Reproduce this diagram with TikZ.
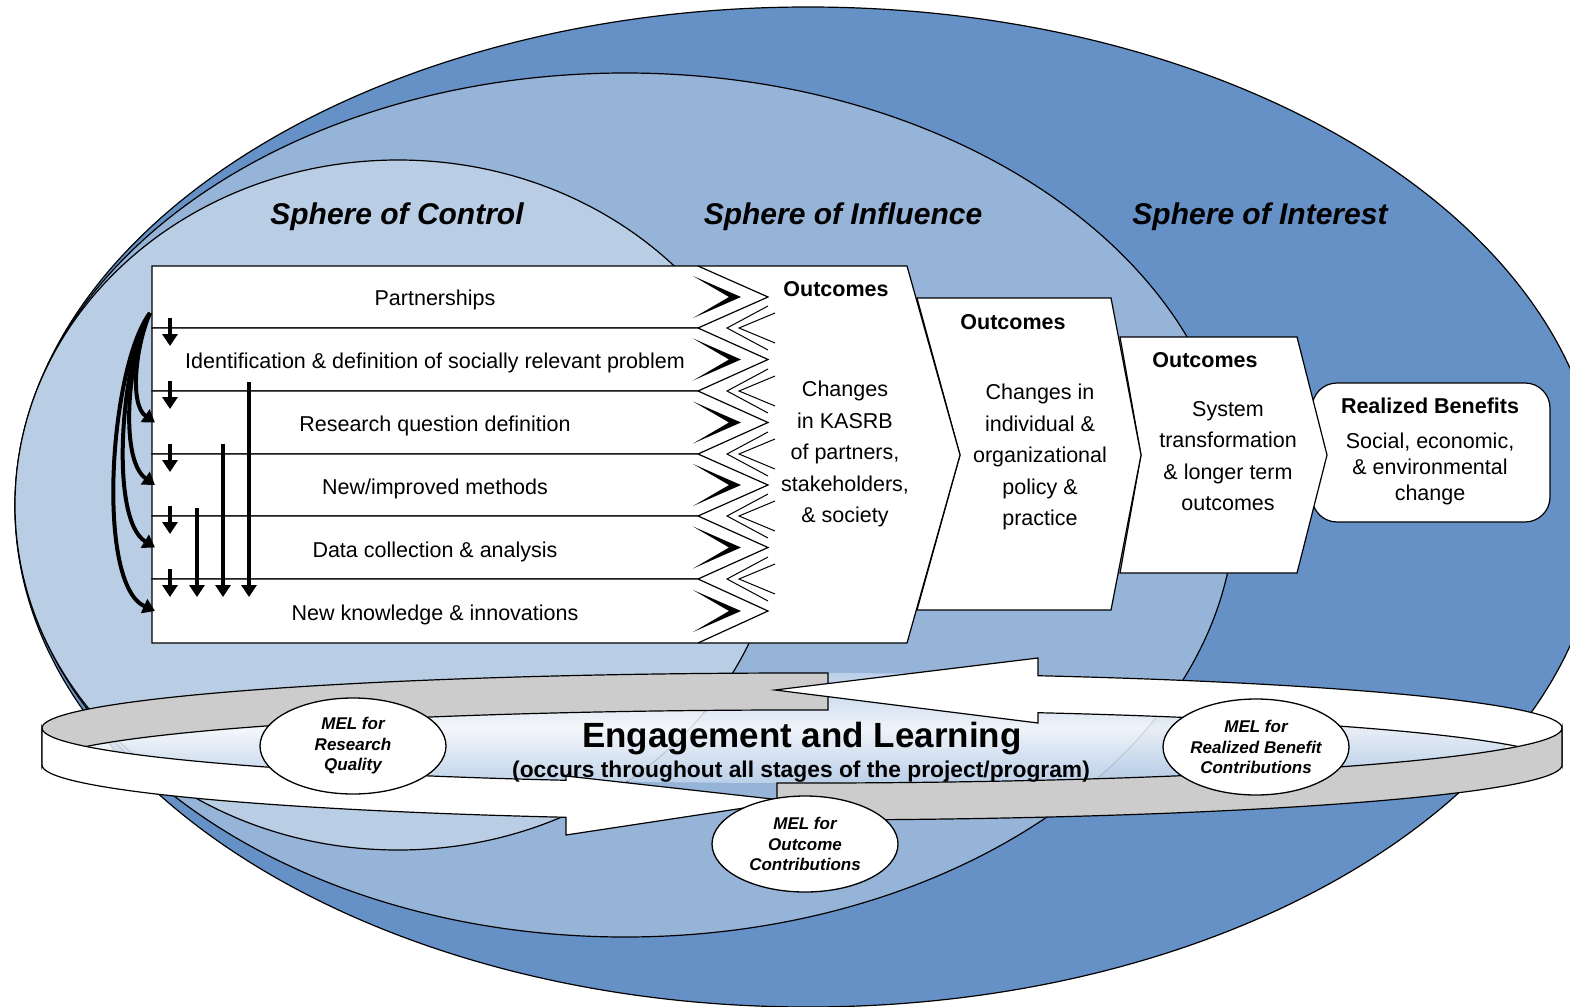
\documentclass[tikz,border=0pt]{standalone}
\usepackage{fontspec}
\setmainfont{Liberation Sans}
\usepackage{tikz}
\usepackage{xcolor}
\usetikzlibrary{arrows.meta,shapes.geometric,calc}

\definecolor{interestblue}{HTML}{6691C6}
\definecolor{influenceblue}{HTML}{96B3D8}
\definecolor{controlblue}{HTML}{B9CDE4}
\definecolor{bandgrey}{HTML}{CCCCCC}
\definecolor{glassblue}{HTML}{C2D5EC}

\tikzset{
    shapeline/.style={draw=black, line width=1.2pt},
    spheretitle/.style={font=\fontsize{30}{36}\selectfont\bfseries\itshape},
    rowtext/.style={font=\fontsize{21.5}{26}\selectfont},
    outtitle/.style={font=\fontsize{21.5}{26}\selectfont\bfseries},
    outtext/.style={font=\fontsize{21.5}{31.5}\selectfont, align=center},
    mel/.style={ellipse, draw, fill=white, line width=1.3pt, minimum width=186pt, minimum height=96pt,
        inner sep=0pt, align=center, font=\fontsize{17}{20.5}\selectfont\bfseries\itshape},
    flow/.style={line width=4pt, -{Triangle[length=12pt,width=15pt]}},
}

\begin{document}
\begin{tikzpicture}[x=1pt,y=-1pt]
        \useasboundingbox (0,0) rectangle (1570,1006);
        \clip (0,0) rectangle (1570,1006);

        % the three spheres
        \draw[shapeline, fill=interestblue] (808,507) ellipse[x radius=793, y radius=500];
        \draw[shapeline, fill=influenceblue] (625,505) ellipse[x radius=610, y radius=432];
        \draw[shapeline, fill=controlblue] (398,505) ellipse[x radius=383, y radius=345];

        \node[spheretitle] (control) at (397,217) {Sphere of Control};
        \node[spheretitle] (influence) at (843,217) {Sphere of Influence};
        \node[spheretitle] (interest) at (1260,217) {Sphere of Interest};

        % outcome chevrons, back to front
        \draw[shapeline, fill=white, rounded corners=25pt] (1312,383) rectangle (1550,522);
        \draw[shapeline, fill=white] (1120,337) -- (1297,337) -- (1327,455) -- (1297,573) -- (1120,573) -- (1141,455) -- cycle;
        \draw[shapeline, fill=white] (917,298) -- (1111,298) -- (1141,455) -- (1111,610) -- (917,610) -- (960,455) -- cycle;
        \fill[white] (698,266) -- (907,266) -- (960,455) -- (907,643) -- (698,643) -- cycle;
        \draw[shapeline] (698,266) -- (907,266) -- (960,455) -- (907,643) -- (698,643);

        % project stages
        \foreach \i/\t/\b in {1/266/328,2/328/391,3/391/454,4/454/516,5/516/579,6/579/643}{
            \draw[shapeline, fill=white] (152,\t) -- (698,\t) -- (768,{(\t+\b)/2}) -- (698,\b) -- (152,\b) -- cycle;
            \fill (693,{(\t+\b)/2-21}) -- (741,{(\t+\b)/2}) -- (693,{(\t+\b)/2+21}) -- (729,{(\t+\b)/2}) -- cycle;
            \coordinate (l\i) at (155,{(\t+\b)/2});
        }
        \foreach \i/\b in {1/328,2/391,3/454,4/516,5/579}{
            \draw[line width=1pt] (768,\b-22) -- (727,\b) -- (768,\b+22);
            \draw[line width=1pt] (775,\b-15) -- (739,\b) -- (775,\b+15);
            \coordinate (b\i) at (152,\b);
        }

        \node[rowtext] (partner) at (435,300) {Partnerships};
        \node[rowtext] (problem) at (435,363) {Identification \& definition of socially relevant problem};
        \node[rowtext] (question) at (435,426) {Research question definition};
        \node[rowtext] (methods) at (435,489) {New/improved methods};
        \node[rowtext] (data) at (435,552) {Data collection \& analysis};
        \node[rowtext] (knowledge) at (435,615) {New knowledge \& innovations};

        % feedback between stages
        \foreach \i in {1,...,5}
            \draw[flow] ($(b\i)+(18,-10)$) -- ($(b\i)+(18,18)$);
        \draw[flow] ($(b4)+(45,-8)$) -- ($(b5)+(45,18)$);
        \draw[flow] ($(b3)+(71,-10)$) -- ($(b5)+(71,18)$);
        \draw[flow] ($(b2)+(97,-9)$) -- ($(b5)+(97,18)$);

        \coordinate (src) at (150,313);
        \draw[flow] (src) .. controls ($(src)+(-14,32)$) and ($(l3)+(-26,-18)$) .. (l3);
        \draw[flow] (src) .. controls ($(src)+(-21,37)$) and ($(l4)+(-37,-26)$) .. (l4);
        \draw[flow] (src) .. controls ($(src)+(-28,42)$) and ($(l5)+(-47,-29)$) .. (l5);
        \draw[flow] (src) .. controls ($(src)+(-40,52)$) and ($(l6)+(-60,-27)$) .. (l6);

        % outcome texts
        \node[outtitle] (out1) at (836,289) {Outcomes};
        \node[outtext] (kasrb) at (845,454) {Changes\\in KASRB\\of partners,\\stakeholders,\\\& society};
        \node[outtitle] (out2) at (1013,322) {Outcomes};
        \node[outtext] (policy) at (1040,457) {Changes in\\individual \&\\organizational\\policy \&\\practice};
        \node[outtitle] (out3) at (1205,360) {Outcomes};
        \node[outtext] (system) at (1228,456) {System\\transformation\\\& longer term\\outcomes};
        \node[outtitle] (benefits) at (1430,406) {Realized Benefits};
        \node[outtext, font=\fontsize{21.5}{26}\selectfont] (change) at (1430,469) {Social, economic,\\\& environmental\\change};

        % engagement ring
        \shade[top color=glassblue, bottom color=glassblue, middle color=white, opacity=0.85] (802,728) ellipse[x radius=760, y radius=55];
        \draw[shapeline, fill=bandgrey] (42,728) arc[start angle=180, end angle=271.96, x radius=760, y radius=55]
            -- (828,710) arc[start angle=271.96, end angle=180, x radius=760, y radius=55] -- cycle;
        \draw[shapeline, fill=white] (1038,658) -- (775,690) -- (1038,723) -- (1038,712.7)
            arc[start angle=288.09, end angle=360, x radius=760, y radius=55]
            -- (1562,728) arc[start angle=360, end angle=288.09, x radius=760, y radius=55] -- cycle;
        \draw[shapeline, fill=bandgrey] (777,783) arc[start angle=91.89, end angle=0, x radius=760, y radius=55]
            -- (1562,765) arc[start angle=0, end angle=91.89, x radius=760, y radius=55] -- cycle;
        \draw[shapeline, fill=white] (42,728) arc[start angle=180, end angle=108.09, x radius=760, y radius=55]
            -- (566,776) -- (790,801) -- (566,835) -- (566,817.3)
            arc[start angle=108.09, end angle=180, x radius=760, y radius=55] -- cycle;

        \node[font=\fontsize{35}{40}\selectfont\bfseries] (engage) at (802,739) {Engagement and Learning};
        \node[font=\fontsize{22.8}{27}\selectfont\bfseries] (stages) at (801,772) {(occurs throughout all stages of the project/program)};

        \node[mel] (melquality) at (353,746) {MEL for\\Research\\Quality};
        \node[mel] (meloutcome) at (805,844) {MEL for\\Outcome\\Contributions};
        \node[mel] (melbenefit) at (1256,747) {MEL for\\Realized Benefit\\Contributions};
\end{tikzpicture}
\end{document}
